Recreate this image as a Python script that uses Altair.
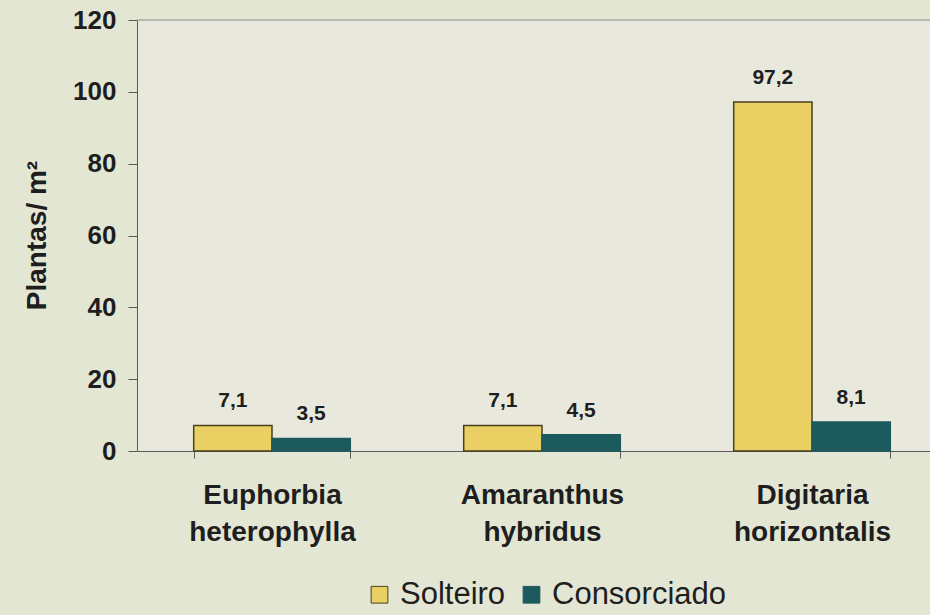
import altair as alt
import pandas as pd

species = ["Euphorbia heterophylla", "Amaranthus hybridus", "Digitaria horizontalis"]
treatments = ["Solteiro", "Consorciado"]
solteiro = [7.1, 7.1, 97.2]
consorciado = [3.5, 4.5, 8.1]
y_ticks = [0, 20, 40, 60, 80, 100, 120]
y_title = "Plantas/ m²"

rows = []
for i, s in enumerate(species):
    rows.append({"especie": s, "tratamento": "Solteiro", "valor": solteiro[i]})
    rows.append({"especie": s, "tratamento": "Consorciado", "valor": consorciado[i]})
df = pd.DataFrame(rows)
df["rotulo"] = df["valor"].map(lambda v: f"{v:.1f}".replace(".", ","))

W, H = 793, 431
FONT = "Liberation Sans"
INK = "#1e1e1e"
AXC = "#5a5a5a"

x_enc = alt.X(
    "especie:N", sort=species,
    scale=alt.Scale(range=[0, 810], paddingInner=0.42, paddingOuter=0.21),
    axis=alt.Axis(
        title=None, labelExpr="split(datum.label, ' ')", labelFont=FONT,
        labelFontSize=28, labelFontWeight="bold", labelColor=INK, labelAngle=0,
        labelPadding=23, labelLineHeight=37, labelBaseline="top", labelLimit=400,
        tickBand="extent", tickSize=7, tickColor=AXC, domainColor=AXC,
    ),
)
xoff = alt.XOffset("tratamento:N", sort=treatments,
                   scale=alt.Scale(paddingInner=0, paddingOuter=0))
y_enc = alt.Y(
    "valor:Q", scale=alt.Scale(domain=[0, 120], nice=False),
    axis=alt.Axis(
        values=y_ticks, grid=False, title=y_title, labelFont=FONT, labelFontSize=26,
        labelFontWeight="bold", labelColor=INK, labelPadding=12, tickSize=9,
        tickColor=AXC, domainColor=AXC, titleFont=FONT, titleFontSize=28,
        titleFontWeight="bold", titleColor=INK, titleAngle=270, titleX=-100,
        titleY=215, titleAlign="center", titleBaseline="middle",
    ),
)

bars = alt.Chart(df).mark_bar(strokeWidth=1.5).encode(
    x=x_enc, xOffset=xoff, y=y_enc,
    color=alt.Color(
        "tratamento:N", sort=treatments,
        scale=alt.Scale(domain=treatments, range=["#EACF62", "#1C5A5E"]),
        legend=alt.Legend(
            title=None, orient="none", legendX=227, legendY=559, direction="horizontal",
            labelFont=FONT, labelFontSize=31, labelColor=INK, labelLimit=400,
            symbolType="square", symbolSize=280, symbolStrokeColor="#3a3a2a",
            symbolStrokeWidth=1, columnPadding=10, labelOffset=5,
        ),
    ),
    stroke=alt.Stroke(
        "tratamento:N", sort=treatments,
        scale=alt.Scale(domain=treatments, range=["#4a4020", "#1C5A5E"]),
        legend=None,
    ),
)

labels = alt.Chart(df).mark_text(
    dy=-24, baseline="middle", font=FONT, fontSize=21, fontWeight="bold", color=INK
).encode(x=x_enc, xOffset=xoff, y=y_enc, text="rotulo:N")

top = alt.Chart(pd.DataFrame({"valor": [120]})).mark_rule(color="#8a8a8a", strokeWidth=1.2).encode(
    y=alt.Y("valor:Q"), x=alt.value(0), x2=alt.value(W)
)

chart = alt.layer(bars, labels, top).properties(
    width=W, height=H,
    padding={"left": 137, "top": 20, "right": 0, "bottom": 164},
    autosize=alt.AutoSizeParams(type="none"),
    background="#E4E6D4",
).configure_view(fill="#E8E9DC", stroke=None)

chart.save("out.html", embed_options={"renderer": "svg", "actions": False})
